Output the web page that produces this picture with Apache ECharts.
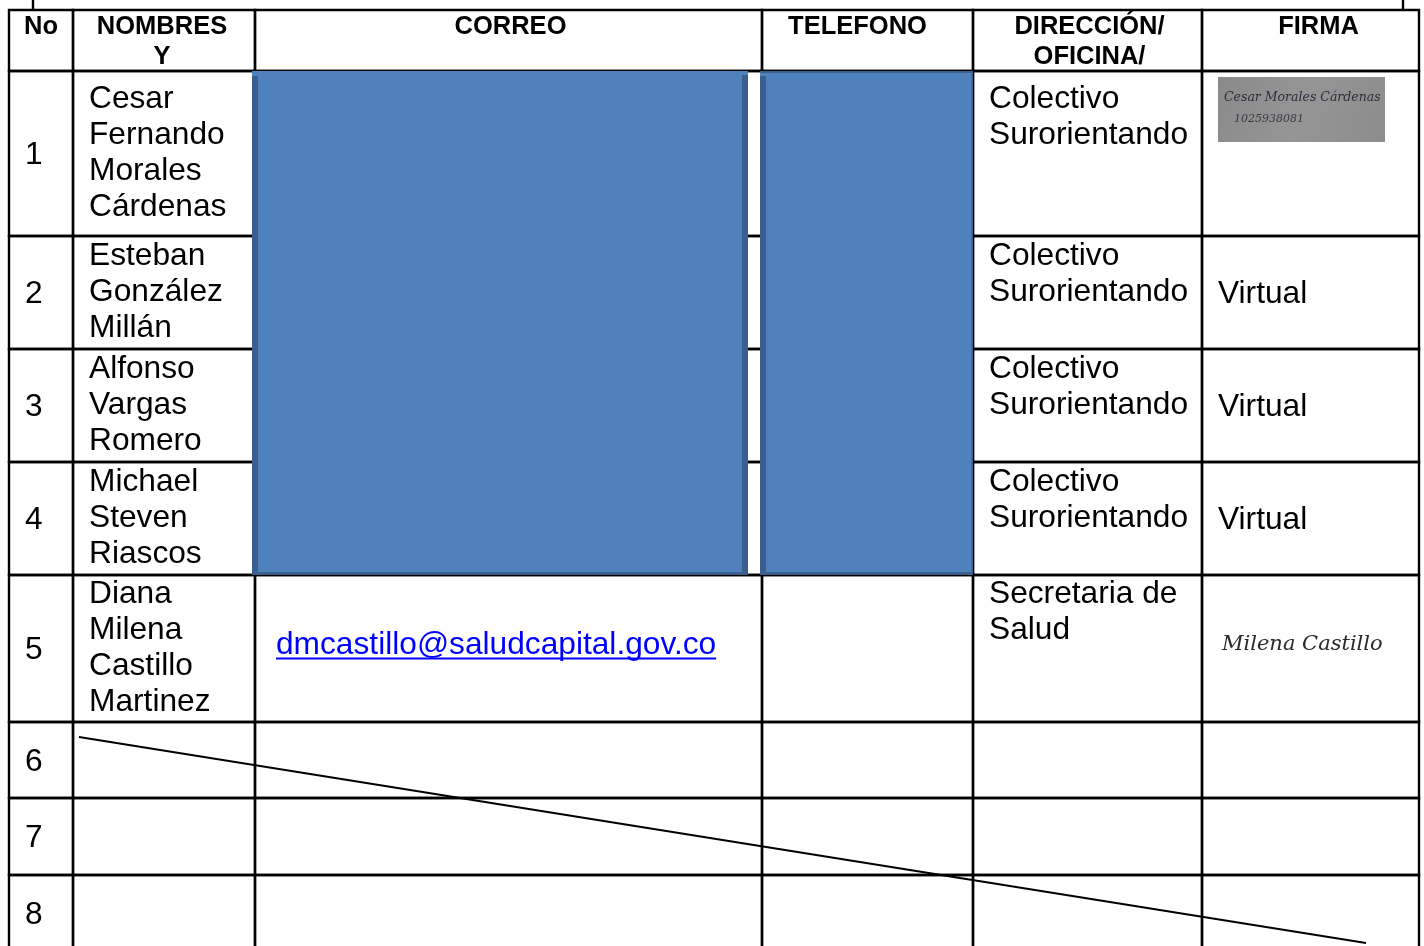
<!DOCTYPE html>
<html>
<head>
<meta charset="utf-8">
<script src="https://cdn.jsdelivr.net/npm/echarts@6/dist/echarts.min.js"></script>
<style>
html, body { margin: 0; padding: 0; background: #ffffff; }
#chart { width: 1424px; height: 946px; }
</style>
</head>
<body>
<div id="chart"></div>
<script>
// ---------------- data ----------------
const headers = ['No', 'NOMBRES\nY', 'CORREO', 'TELEFONO', 'DIRECCIÓN/\nOFICINA/', 'FIRMA'];
const rowNumbers = ['1', '2', '3', '4', '5', '6', '7', '8'];
const names = [
  'Cesar\nFernando\nMorales\nCárdenas',
  'Esteban\nGonzález\nMillán',
  'Alfonso\nVargas\nRomero',
  'Michael\nSteven\nRiascos',
  'Diana\nMilena\nCastillo\nMartinez',
  '', '', ''
];
const emails = ['', '', '', '', 'dmcastillo@saludcapital.gov.co', '', '', ''];
const phones = ['', '', '', '', '', '', '', ''];
const offices = [
  'Colectivo\nSurorientando',
  'Colectivo\nSurorientando',
  'Colectivo\nSurorientando',
  'Colectivo\nSurorientando',
  'Secretaria de\nSalud',
  '', '', ''
];
const signatures = ['Cesar Morales Cárdenas\n1025938081', 'Virtual', 'Virtual', 'Virtual', 'Milena Castillo', '', '', ''];
const signatureKind = ['scan', 'text', 'text', 'text', 'hand', 'none', 'none', 'none'];
const redactedRows = [0, 1, 2, 3];      // rows whose CORREO and TELEFONO are masked
const struckRows = [5, 6, 7];           // empty rows crossed out

// ---------------- layout ----------------
const W = 1424, H = 946;
const colEdges = [9, 73, 255, 762, 973, 1202, 1419];
const rowEdges = [10, 71, 236, 349, 462, 575, 722, 798, 875, 952];
const headerDx = [0, -2, 2, -10, 2, 8];
const BORDER = 2.4;
const FONT = 'Liberation Sans, Arial, sans-serif';
const BODY_SIZE = 31.7, BODY_LH = 36;
const HEAD_SIZE = 25.5, HEAD_LH = 30;
const PAD = 16;
const maskSpans = [[252, 748], [760, 973]];
const frameStubs = [33, 1403];
const strike = { from: [79, 737], to: [1366, 943] };

const measureCtx = document.createElement('canvas').getContext('2d');
function textWidth(t, font) { measureCtx.font = font; return measureCtx.measureText(t).width; }

function box(api, x0, y0, x1, y1) {
  const p0 = api.coord([x0, y0]);
  const p1 = api.coord([x1, y1]);
  return { x: p0[0], y: p0[1], width: p1[0] - p0[0], height: p1[1] - p0[1] };
}

const cellData = [];
for (let r = 0; r <= rowNumbers.length; r++) {
  for (let c = 0; c < headers.length; c++) cellData.push([colEdges[c], rowEdges[r], c, r]);
}

function bodyText(c, i) {
  if (c === 0) return rowNumbers[i];
  if (c === 1) return names[i];
  if (c === 2) return emails[i];
  if (c === 3) return phones[i];
  if (c === 4) return offices[i];
  if (c === 5) return signatureKind[i] === 'text' ? signatures[i] : '';
  return '';
}

function renderCell(params, api) {
  const c = api.value(2), r = api.value(3);
  const b = box(api, colEdges[c], rowEdges[r], colEdges[c + 1], rowEdges[r + 1]);
  const children = [{
    type: 'rect', shape: b,
    style: { fill: 'none', stroke: '#000', lineWidth: BORDER }
  }];
  if (r === 0) {
    children.push({
      type: 'text',
      style: {
        text: headers[c], x: b.x + b.width / 2 + headerDx[c], y: b.y + 1.5,
        align: 'center', verticalAlign: 'top', lineHeight: HEAD_LH,
        font: 'bold ' + HEAD_SIZE + 'px ' + FONT, fill: '#000'
      }
    });
    return { type: 'group', children };
  }
  const i = r - 1;
  const t = bodyText(c, i);
  if (!t) return { type: 'group', children };
  const nLines = names[i] ? names[i].split('\n').length : 1;
  const blockTop = b.y + (b.height - nLines * BODY_LH) / 2;
  const font = BODY_SIZE + 'px ' + FONT;
  if (c === 1 || c === 4) {
    children.push({
      type: 'text',
      style: { text: t, x: b.x + PAD, y: blockTop, align: 'left', verticalAlign: 'top',
        lineHeight: BODY_LH, font, fill: '#000' }
    });
  } else if (c === 2) {
    const tx = b.x + 21, ty = b.y + b.height / 2 - 3;
    const w = textWidth(t, font);
    children.push({
      type: 'text',
      style: { text: t, x: tx, y: ty, align: 'left', verticalAlign: 'middle',
        lineHeight: BODY_LH, font, fill: '#0000ff' }
    });
    children.push({
      type: 'line',
      shape: { x1: tx, y1: ty + 13, x2: tx + w, y2: ty + 13 },
      style: { stroke: '#0000ff', lineWidth: 2 }
    });
  } else {
    children.push({
      type: 'text',
      style: { text: t, x: b.x + PAD, y: b.y + b.height / 2 + 2, align: 'left', verticalAlign: 'middle',
        lineHeight: BODY_LH, font, fill: '#000' }
    });
  }
  return { type: 'group', children };
}

// mask blocks over CORREO / TELEFONO
const maskData = maskSpans.map((s, k) => [s[0], rowEdges[redactedRows[0] + 1], k]);
function renderMask(params, api) {
  const k = api.value(2);
  const s = maskSpans[k];
  const y0 = rowEdges[redactedRows[0] + 1];
  const y1 = rowEdges[redactedRows[redactedRows.length - 1] + 2];
  const b = box(api, s[0], y0, s[1], y1);
  const dark = '#3a5f8e';
  const children = [
    { type: 'rect', shape: b, style: { fill: '#4f81bd' } },
    { type: 'rect', shape: { x: b.x, y: b.y + 5, width: 6, height: b.height - 5 }, style: { fill: dark } },
    { type: 'rect', shape: { x: b.x, y: b.y + b.height - 3, width: b.width, height: 3 }, style: { fill: dark } }
  ];
  if (k === 0) {
    children.push({ type: 'rect', shape: { x: b.x + b.width - 6, y: b.y + 4, width: 6, height: b.height - 4 }, style: { fill: dark } });
  } else {
    children.push({ type: 'rect', shape: { x: b.x, y: b.y, width: b.width, height: 2 }, style: { fill: dark } });
    children.push({ type: 'rect', shape: { x: b.x + b.width - 1.5, y: b.y, width: 1.5, height: b.height }, style: { fill: dark } });
  }
  return { type: 'group', children };
}

// signatures (scan / handwriting), frame stubs and strike line
const extraData = [[0, 0, 0]];
function renderExtra(params, api) {
  const children = [];
  frameStubs.forEach(x => {
    const p0 = api.coord([x, 0]), p1 = api.coord([x, rowEdges[0]]);
    children.push({ type: 'line', shape: { x1: p0[0], y1: p0[1] - 2, x2: p1[0], y2: p1[1] },
      style: { stroke: '#000', lineWidth: BORDER } });
  });
  signatureKind.forEach((kind, i) => {
    const b = box(api, colEdges[5], rowEdges[i + 1], colEdges[6], rowEdges[i + 2]);
    if (kind === 'scan') {
      const lines = signatures[i].split('\n');
      children.push({ type: 'rect', shape: { x: b.x + 16, y: b.y + 6, width: 167, height: 65 },
        style: { fill: new echarts.graphic.LinearGradient(0, 0, 1, 1, [
          { offset: 0, color: '#8a8a8a' }, { offset: 0.5, color: '#959595' }, { offset: 1, color: '#8c8c8c' }]) } });
      children.push({ type: 'text', style: { text: lines[0], x: b.x + 22, y: b.y + 27,
        align: 'left', verticalAlign: 'middle', font: 'italic 12.5px DejaVu Serif, serif', fill: '#2e2e3c' } });
      children.push({ type: 'text', style: { text: lines[1], x: b.x + 32, y: b.y + 48,
        align: 'left', verticalAlign: 'middle', font: 'italic 11px DejaVu Serif, serif', fill: '#3a3a44' } });
    } else if (kind === 'hand') {
      children.push({ type: 'text', style: { text: signatures[i], x: b.x + 20, y: b.y + b.height / 2 - 4,
        align: 'left', verticalAlign: 'middle', font: 'italic 21px DejaVu Serif, serif', fill: '#2a2a2a' } });
    }
  });
  const s0 = api.coord(strike.from), s1 = api.coord(strike.to);
  children.push({ type: 'line', shape: { x1: s0[0], y1: s0[1], x2: s1[0], y2: s1[1] },
    style: { stroke: '#000', lineWidth: 1.8 } });
  return { type: 'group', children };
}

const chart = echarts.init(document.getElementById('chart'), null, { renderer: 'canvas' });
chart.setOption({
  animation: false,
  backgroundColor: '#ffffff',
  grid: { left: 0, right: 0, top: 0, bottom: 0, show: false },
  xAxis: { type: 'value', min: 0, max: W, show: false },
  yAxis: { type: 'value', min: 0, max: H, inverse: true, show: false },
  series: [
    { type: 'custom', name: 'cells', clip: false, z: 1, data: cellData,
      encode: { x: 0, y: 1 }, renderItem: renderCell, silent: true },
    { type: 'custom', name: 'mask', clip: false, z: 2, data: maskData,
      encode: { x: 0, y: 1 }, renderItem: renderMask, silent: true },
    { type: 'custom', name: 'extra', clip: false, z: 3, data: extraData,
      encode: { x: 0, y: 1 }, renderItem: renderExtra, silent: true }
  ]
});
</script>
</body>
</html>
